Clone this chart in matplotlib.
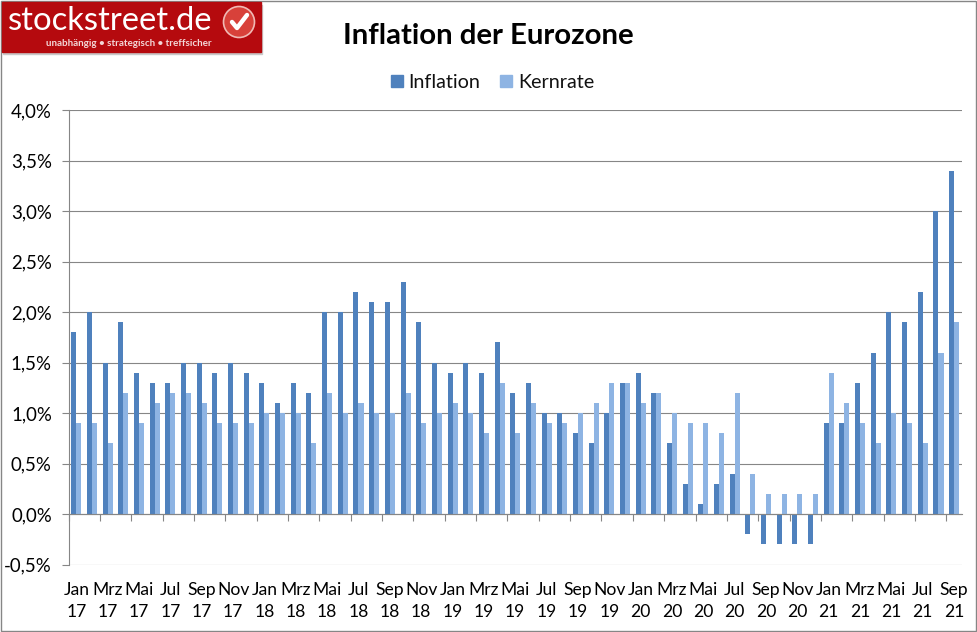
import matplotlib
matplotlib.use('Agg')
import matplotlib.pyplot as plt
from matplotlib.patches import Rectangle, Circle
import numpy as np

plt.rcParams['font.family'] = ['Lato', 'DejaVu Sans']

W, H = 977, 632

# monatswerte jan 17 - sep 21
inflation = [1.8, 2.0, 1.5, 1.9, 1.4, 1.3, 1.3, 1.5, 1.5, 1.4, 1.5, 1.4,
             1.3, 1.1, 1.3, 1.2, 2.0, 2.0, 2.2, 2.1, 2.1, 2.3, 1.9, 1.5,
             1.4, 1.5, 1.4, 1.7, 1.2, 1.3, 1.0, 1.0, 0.8, 0.7, 1.0, 1.3,
             1.4, 1.2, 0.7, 0.3, 0.1, 0.3, 0.4, -0.2, -0.3, -0.3, -0.3, -0.3,
             0.9, 0.9, 1.3, 1.6, 2.0, 1.9, 2.2, 3.0, 3.4]
kernrate = [0.9, 0.9, 0.7, 1.2, 0.9, 1.1, 1.2, 1.2, 1.1, 0.9, 0.9, 0.9,
            1.0, 1.0, 1.0, 0.7, 1.2, 1.0, 1.1, 1.0, 1.0, 1.2, 0.9, 1.0,
            1.1, 1.0, 0.8, 1.3, 0.8, 1.1, 0.9, 0.9, 1.0, 1.1, 1.3, 1.3,
            1.1, 1.2, 1.0, 0.9, 0.9, 0.8, 1.2, 0.4, 0.2, 0.2, 0.2, 0.2,
            1.4, 1.1, 0.9, 0.7, 1.0, 0.9, 0.7, 1.6, 1.9]
monate = ['Jan', 'Mrz', 'Mai', 'Jul', 'Sep', 'Nov']
jahre = ['17', '18', '19', '20', '21']
yticks = [-0.5, 0.0, 0.5, 1.0, 1.5, 2.0, 2.5, 3.0, 3.5, 4.0]

labels = [f'{m}\n{j}' for j in jahre for m in monate][:29]

fig = plt.figure(figsize=(W / 100, H / 100), dpi=100, facecolor='white')
ax = fig.add_axes([68.5 / W, 1 - 564.7 / H, (962 - 68.5) / W, (564.7 - 110) / H])

x = np.arange(len(inflation))
bw = 0.32
ax.bar(x - bw / 2, inflation, bw, color='#4f81bd', zorder=3)
ax.bar(x + bw / 2, kernrate, bw, color='#8eb4e3', zorder=3)

ax.set_xlim(-0.5, len(x) - 0.5)
ax.set_ylim(-0.5, 4.0)
ax.set_yticks(yticks)
ax.set_yticklabels([f'{v:.1f}%'.replace('.', ',') for v in yticks])
ax.grid(axis='y', color='#868686', lw=0.8, zorder=1)
ax.set_axisbelow(True)

for s in ['top', 'right']:
    ax.spines[s].set_visible(False)
ax.spines['left'].set_color('#868686')
ax.spines['left'].set_linewidth(0.8)
ax.spines['bottom'].set_color('#868686')
ax.spines['bottom'].set_linewidth(0.8)
ax.spines['bottom'].set_position(('data', 0))
ax.spines['bottom'].set_zorder(4)

ax.set_xticks(x[::2])
ax.set_xticklabels(labels, linespacing=1.46)
ax.set_xticks(np.arange(-0.5, len(x), 2), minor=True)
ax.tick_params(axis='x', which='major', length=0, pad=48.5, labelsize=12.6)
ax.tick_params(axis='x', which='minor', length=5, width=0.8, color='#868686')
ax.tick_params(axis='y', length=5, width=0.8, color='#868686', pad=7, labelsize=13.4)

# titel + legende
fig.text(488 / W, 1 - 36.5 / H, 'Inflation der Eurozone', ha='center', va='center',
         fontsize=21.2, fontweight='bold', color='black')

over = fig.add_axes([0, 0, 1, 1], facecolor='none')
over.set_xlim(0, W)
over.set_ylim(H, 0)
over.axis('off')

over.add_patch(Rectangle((391, 75), 12, 12, color='#4f81bd'))
over.text(408, 82.5, 'Inflation', va='center', fontsize=14.2, color='#111111')
over.add_patch(Rectangle((500, 75), 12, 12, color='#8eb4e3'))
over.text(518, 82.5, 'Kernrate', va='center', fontsize=14.2, color='#111111')

# rahmen
over.add_patch(Rectangle((0.5, 0.5), W - 2, H - 1.5, fill=False, ec='#868686', lw=1.0))

# logo
over.add_patch(Rectangle((3, 5), 259, 49, color='#c9c9c9', zorder=2))
over.add_patch(Rectangle((2, 2), 259, 50, color='#b50a0e', zorder=3))
over.text(8, 21, 'stockstreet.de', va='center', ha='left', fontsize=23.6,
          color='white', zorder=4)
over.text(46, 43, 'unabhängig • strategisch • treffsicher', va='center', ha='left',
          fontsize=7.1, color='#f3d6d6', fontweight='bold', zorder=4)
over.add_patch(Circle((239, 22), 15.5, fc='#d8413a', ec='#f0b9b4', lw=1.2, zorder=4))
over.plot([232, 237, 247], [22, 28, 15], color='white', lw=3.2, zorder=5,
          solid_capstyle='round')

fig.savefig('out.png', dpi=100)
